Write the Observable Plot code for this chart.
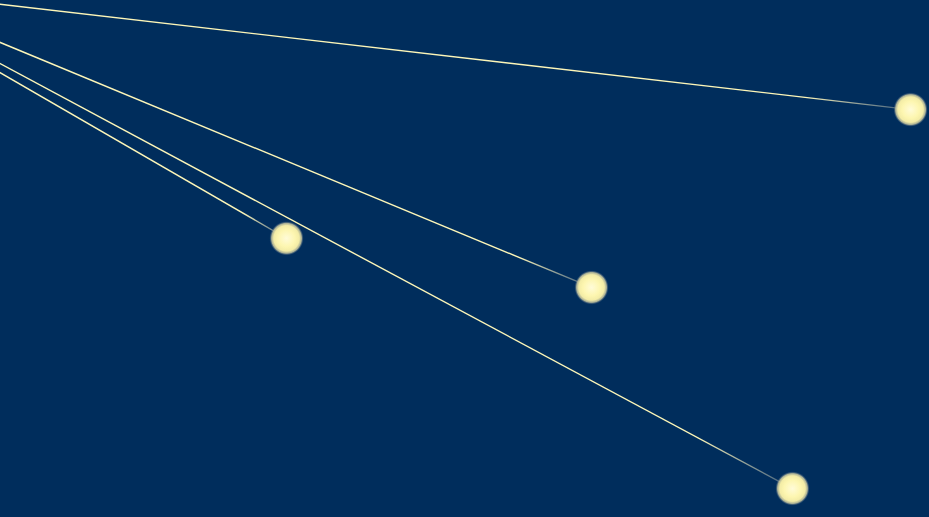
<!DOCTYPE html>
<html>
<head>
<meta charset="utf-8">
<script src="https://cdn.jsdelivr.net/npm/d3@7"></script>
<script src="https://cdn.jsdelivr.net/npm/@observablehq/plot@0.6"></script>
<style>
  html, body { margin: 0; padding: 0; background: #002d5c; overflow: hidden; }
  #chart svg { display: block; }
</style>
</head>
<body>
<div id="chart"></div>
<script>
// Meteors: trail start (off-chart radiant) and head position, in chart units (0–100)
const meteors = ["A", "B", "C", "D"];
const startX = [-15.1, -15.1, -15.1, -15.1];
const startY = [102.4, 103.1, 102.3, 101.7];
const headX = [97.96, 63.62, 85.25, 30.79];
const headY = [78.9, 44.5, 5.6, 54.0];

const data = meteors.map((name, i) => ({
  name, x1: startX[i], y1: startY[i], x2: headX[i], y2: headY[i]
}));

const chart = Plot.plot({
  width: 929,
  height: 517,
  margin: 0,
  style: { background: "#002d5c", overflow: "hidden" },
  x: { domain: [0, 100], axis: null },
  y: { domain: [0, 100], axis: null },
  marks: [
    Plot.link(data, {
      x1: "x1", y1: "y1", x2: "x2", y2: "y2",
      stroke: "url(#trail)", strokeWidth: 1.4
    }),
    Plot.dot(data, {
      x: "x2", y: "y2", r: 17,
      fill: "url(#glow)", stroke: "none"
    })
  ]
});

const svg = d3.select(chart);
const defs = svg.insert("defs", ":first-child");
const trail = defs.append("linearGradient").attr("id", "trail")
  .attr("x1", 0).attr("y1", 0).attr("x2", 1).attr("y2", 0);
trail.append("stop").attr("offset", 0).attr("stop-color", "#fdf6b8").attr("stop-opacity", 1);
trail.append("stop").attr("offset", 0.9).attr("stop-color", "#fdf6b8").attr("stop-opacity", 1);
trail.append("stop").attr("offset", 1).attr("stop-color", "#c8c8b8").attr("stop-opacity", 0.3);

const glow = defs.append("radialGradient").attr("id", "glow")
  .attr("cx", 0.5).attr("cy", 0.5).attr("r", 0.5);
glow.append("stop").attr("offset", 0).attr("stop-color", "#fffbd8");
glow.append("stop").attr("offset", 0.5).attr("stop-color", "#fdf6b0");
glow.append("stop").attr("offset", 0.75).attr("stop-color", "#f3eca6");
glow.append("stop").attr("offset", 0.88).attr("stop-color", "#bfc09c").attr("stop-opacity", 0.9);
glow.append("stop").attr("offset", 1).attr("stop-color", "#3f5a80").attr("stop-opacity", 0.1);

const blur = defs.append("filter").attr("id", "soft")
  .attr("x", "-20%").attr("y", "-20%").attr("width", "140%").attr("height", "140%");
blur.append("feGaussianBlur").attr("stdDeviation", 0.6);
svg.selectAll("circle").attr("filter", "url(#soft)");

document.getElementById("chart").append(chart);
</script>
</body>
</html>
